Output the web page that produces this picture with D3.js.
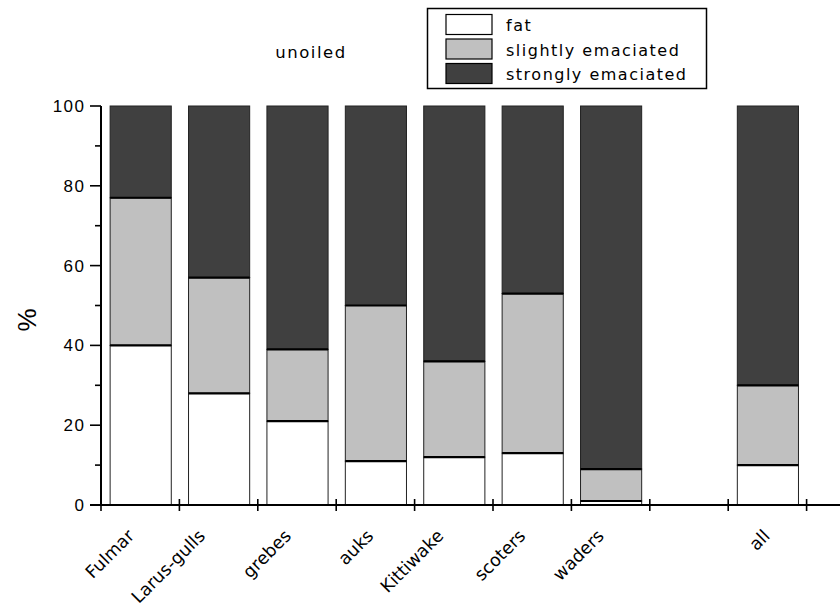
<!DOCTYPE html>
<html><head><meta charset="utf-8">
<script src="https://cdn.jsdelivr.net/npm/d3@7"></script>
<style>body{margin:0;background:#fff}</style>
</head><body>
<svg id="c" width="840" height="607"></svg>
<script>
const categories = ["Fulmar","Larus-gulls","grebes","auks","Kittiwake","scoters","waders","","all"];
const fat      = [40, 28, 21, 11, 12, 13, 1, null, 10];
const slightly = [37, 29, 18, 39, 24, 40, 8, null, 20];
const strongly = [23, 43, 61, 50, 64, 47, 91, null, 70];
const seriesNames = ["fat","slightly emaciated","strongly emaciated"];
const colors = ["#ffffff","#c0c0c0","#404040"];
const yTicks = [0,20,40,60,80,100];
const title = "unoiled";

const svg = d3.select("#c");
const x = d3.scaleBand().domain(categories.map((c,i)=>i)).range([101, 806.6]).paddingInner(0.22).paddingOuter(0.11);
const y = d3.scaleLinear().domain([0,100]).range([505,106]);

const rows = categories.map((c,i)=>({i, fat:fat[i], slightly:slightly[i], strongly:strongly[i]})).filter(d=>d.fat!==null);
const stack = d3.stack().keys(["fat","slightly","strongly"])(rows);

const g = svg.append("g");
stack.forEach((layer,k)=>{
  g.selectAll(null).data(layer).join("rect")
    .attr("x", d=>x(d.data.i)+0.5).attr("width", x.bandwidth())
    .attr("y", d=>y(d[1])).attr("height", d=>y(d[0])-y(d[1]))
    .attr("fill", colors[k]).attr("stroke","#222").attr("stroke-width",1);
});
// thick boundaries between segments
stack.slice(0,2).forEach(layer=>{
  g.selectAll(null).data(layer).join("line")
    .attr("x1", d=>x(d.data.i)+0.5).attr("x2", d=>x(d.data.i)+x.bandwidth()+0.5)
    .attr("y1", d=>y(d[1])).attr("y2", d=>y(d[1]))
    .attr("stroke","#000").attr("stroke-width",2.2);
});

// y axis
const ya = svg.append("g");
ya.append("line").attr("x1",101).attr("x2",101).attr("y1",y(100)).attr("y2",y(0)).attr("stroke","#000").attr("stroke-width",2);
d3.range(0,101,10).forEach(v=>{
  const major = v%20===0;
  ya.append("line").attr("x1", major?90:95).attr("x2",101).attr("y1",y(v)).attr("y2",y(v)).attr("stroke","#000").attr("stroke-width",1.6);
});
ya.selectAll("text").data(yTicks).join("text")
  .attr("x",85.5).attr("y",d=>y(d)+6).attr("text-anchor","end")
  .attr("font-family","Liberation Sans, Arial, sans-serif").attr("font-size",17).attr("letter-spacing",1.5).text(d=>d);
svg.append("text").attr("transform","translate(36,320) rotate(-90)").attr("text-anchor","middle")
  .attr("font-family","Liberation Sans, Arial, sans-serif").attr("font-size",26).text("%");

// x axis
const xa = svg.append("g");
xa.append("line").attr("x1",90).attr("x2",840).attr("y1",505).attr("y2",505).attr("stroke","#000").attr("stroke-width",2);
const step = x.step();
d3.range(0,10).forEach(k=>{
  const tx = 101 + k*step;
  xa.append("line").attr("x1",tx).attr("x2",tx).attr("y1",499).attr("y2",511).attr("stroke","#000").attr("stroke-width",1.6);
});
const xl = xa.selectAll("text").data(categories.map((c,i)=>({c,i})).filter(d=>d.c!=="")).join("text")
  .attr("text-anchor","end")
  .attr("font-family","DejaVu Sans, Verdana, sans-serif").attr("font-size",17.5).text(d=>d.c);
xl.each(function(d){
  const len = this.getComputedTextLength();
  const ax = x(d.i)+x.bandwidth()/2 + 8 - 0.215*len;
  d3.select(this).attr("transform", `translate(${ax},537) rotate(-45)`);
});

// title
svg.append("text").attr("x",311).attr("y",58).attr("text-anchor","middle")
  .attr("font-family","DejaVu Sans, Verdana, sans-serif").attr("font-size",16.5).attr("letter-spacing",1.5).text(title);

// legend
const lg = svg.append("g");
lg.append("rect").attr("x",427.5).attr("y",8.5).attr("width",279).attr("height",80).attr("fill","#fff").attr("stroke","#000").attr("stroke-width",1.5);
seriesNames.forEach((n,k)=>{
  lg.append("rect").attr("x",446).attr("y",14.5+k*24.5).attr("width",46).attr("height",20).attr("fill",colors[k]).attr("stroke","#000").attr("stroke-width",1.2);
  lg.append("text").attr("x",506).attr("y",31+k*24.5).attr("font-family","DejaVu Sans, Verdana, sans-serif").attr("font-size",16).attr("letter-spacing",1.5).text(n);
});
</script>
</body></html>
